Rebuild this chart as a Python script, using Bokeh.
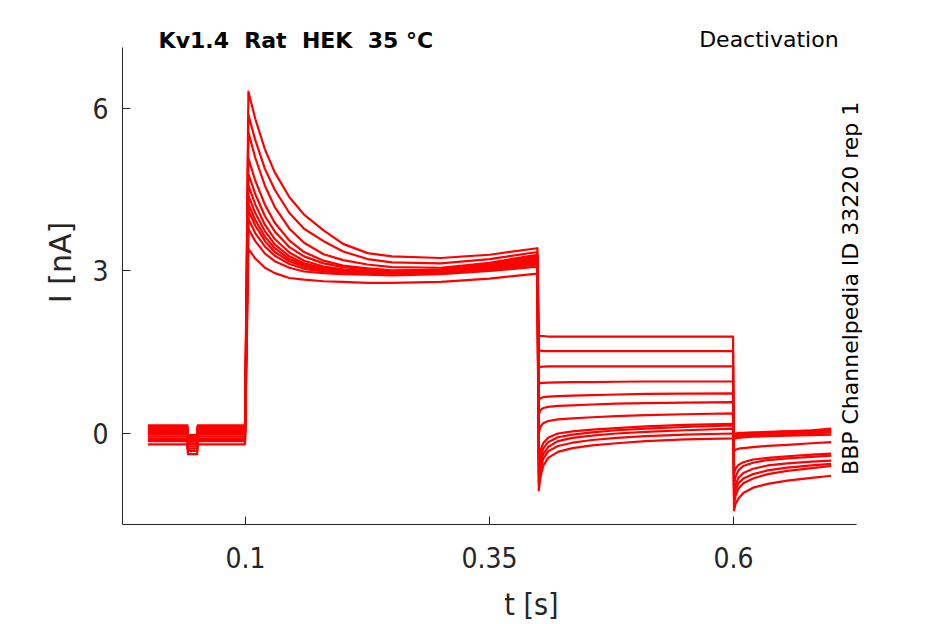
from bokeh.plotting import figure
from bokeh.models import Range1d, FixedTicker, Label
from bokeh.embed import file_html
from bokeh.resources import INLINE
import math

# ---- data ----
X_TICKS = [0.1, 0.35, 0.6]
Y_TICKS = [0, 3, 6]
X_AXIS_SPAN = (-0.026, 0.726)
Y_AXIS_SPAN = (-1.68, 7.126)

# holding segment
T_PRE = [0.0, 0.0405, 0.041, 0.0505, 0.051, 0.0995]
HOLD = [0.15, 0.10, 0.06, 0.12, 0.03, 0.00, -0.02, 0.08, -0.06, -0.10, -0.14, -0.20]
DIP = [-0.03, -0.08, -0.12, -0.06, -0.15, -0.18, -0.20, -0.10, -0.24, -0.28, -0.32, -0.38]

# activating step
T_ACT = [0.103, 0.11, 0.12, 0.13, 0.145, 0.16, 0.18, 0.2, 0.225, 0.25, 0.3, 0.35, 0.399]
ACT = [
    [6.31, 5.81, 5.24, 4.82, 4.36, 4.04, 3.75, 3.50, 3.33, 3.27, 3.24, 3.30, 3.42],
    [5.88, 5.42, 4.88, 4.50, 4.07, 3.78, 3.55, 3.36, 3.22, 3.16, 3.14, 3.22, 3.35],
    [5.56, 5.09, 4.57, 4.18, 3.78, 3.52, 3.31, 3.20, 3.12, 3.07, 3.06, 3.15, 3.30],
    [5.08, 4.67, 4.22, 3.89, 3.56, 3.35, 3.19, 3.10, 3.05, 3.01, 3.02, 3.12, 3.28],
    [4.79, 4.42, 4.01, 3.73, 3.44, 3.27, 3.14, 3.07, 3.03, 3.00, 3.03, 3.13, 3.25],
    [4.58, 4.23, 3.85, 3.59, 3.34, 3.19, 3.08, 3.03, 3.00, 2.98, 3.00, 3.10, 3.22],
    [4.39, 4.07, 3.73, 3.49, 3.27, 3.14, 3.05, 3.01, 2.99, 2.97, 2.99, 3.08, 3.20],
    [4.24, 3.94, 3.63, 3.42, 3.22, 3.11, 3.04, 3.00, 2.98, 2.97, 2.98, 3.06, 3.18],
    [4.12, 3.84, 3.55, 3.35, 3.18, 3.08, 3.01, 2.98, 2.97, 2.96, 2.97, 3.04, 3.15],
    [3.96, 3.70, 3.45, 3.28, 3.13, 3.04, 2.99, 2.97, 2.96, 2.95, 2.96, 3.02, 3.12],
    [3.78, 3.55, 3.32, 3.18, 3.06, 2.99, 2.96, 2.94, 2.93, 2.92, 2.94, 3.00, 3.08],
    [3.41, 3.23, 3.06, 2.96, 2.87, 2.84, 2.81, 2.80, 2.78, 2.78, 2.80, 2.86, 2.95],
]

# tail (deactivation) step
T_TAIL = [0.4005, 0.402, 0.405, 0.41, 0.42, 0.435, 0.455, 0.48, 0.51, 0.55, 0.5995]
TAIL = [
    [1.80, 1.80, 1.80, 1.79, 1.79, 1.79, 1.79, 1.79, 1.79, 1.79, 1.79],
    [1.53, 1.53, 1.52, 1.52, 1.52, 1.52, 1.52, 1.52, 1.52, 1.52, 1.52],
    [1.22, 1.23, 1.235, 1.24, 1.24, 1.24, 1.24, 1.24, 1.24, 1.24, 1.24],
    [0.92, 0.93, 0.935, 0.94, 0.945, 0.95, 0.95, 0.955, 0.96, 0.96, 0.96],
    [0.62, 0.65, 0.67, 0.68, 0.69, 0.70, 0.71, 0.72, 0.73, 0.735, 0.74],
    [0.35, 0.43, 0.47, 0.49, 0.51, 0.52, 0.535, 0.55, 0.56, 0.57, 0.58],
    [0.00, 0.12, 0.19, 0.23, 0.26, 0.28, 0.30, 0.32, 0.34, 0.355, 0.37],
    [-0.45, -0.32, -0.18, -0.08, 0.00, 0.04, 0.07, 0.10, 0.13, 0.16, 0.18],
    [-0.60, -0.45, -0.28, -0.16, -0.07, -0.02, 0.02, 0.06, 0.09, 0.12, 0.15],
    [-0.75, -0.56, -0.38, -0.25, -0.14, -0.08, -0.04, 0.00, 0.03, 0.06, 0.09],
    [-0.90, -0.68, -0.47, -0.33, -0.23, -0.17, -0.12, -0.08, -0.05, -0.02, 0.00],
    [-1.05, -0.82, -0.60, -0.45, -0.34, -0.27, -0.22, -0.18, -0.14, -0.11, -0.09],
]

# final step
T_POST = [0.6005, 0.602, 0.605, 0.61, 0.62, 0.635, 0.655, 0.68, 0.7]
POST = [
    [-1.42, -1.30, -1.20, -1.10, -1.00, -0.93, -0.87, -0.82, -0.78],
    [-1.32, -1.15, -1.02, -0.92, -0.83, -0.75, -0.69, -0.64, -0.60],
    [-1.22, -1.05, -0.92, -0.83, -0.75, -0.68, -0.63, -0.59, -0.56],
    [-1.12, -0.95, -0.82, -0.73, -0.65, -0.59, -0.55, -0.52, -0.50],
    [-0.95, -0.80, -0.68, -0.60, -0.54, -0.49, -0.46, -0.43, -0.41],
    [-0.74, -0.65, -0.58, -0.53, -0.48, -0.45, -0.42, -0.39, -0.37],
    [-0.32, -0.30, -0.28, -0.27, -0.25, -0.23, -0.21, -0.18, -0.16],
    [0.00, 0.00, 0.01, 0.01, 0.02, 0.03, 0.04, 0.05, 0.06],
    [-0.03, -0.03, -0.02, -0.01, 0.00, 0.01, 0.02, 0.03, 0.04],
    [-0.06, -0.05, -0.05, -0.04, -0.03, -0.02, -0.01, 0.00, 0.02],
    [-0.10, -0.09, -0.08, -0.07, -0.06, -0.05, -0.04, -0.03, -0.02],
    [-0.04, -0.03, -0.02, -0.01, 0.00, 0.02, 0.04, 0.06, 0.09],
]

TITLE = "Kv1.4\u00a0 Rat\u00a0 HEK\u00a0 35 °C"
PROTOCOL = "Deactivation"
SOURCE = "BBP Channelpedia ID 33220 rep 1"

# ---- figure ----
AX = "#262626"
TICK_FONT = "DejaVu Sans Condensed, DejaVu Sans"
p = figure(width=940, height=624, output_backend="svg", toolbar_location=None,
           x_range=Range1d(-0.026, 0.812), y_range=Range1d(-1.68, 7.993),
           min_border_left=122, min_border_right=0, min_border_top=0,
           min_border_bottom=100)
p.outline_line_color = None
p.grid.visible = False
p.background_fill_color = "white"
p.border_fill_color = "white"

xs, ys = [], []
for i in range(len(HOLD)):
    h, d = HOLD[i], DIP[i]
    xs.append(T_PRE + T_ACT + T_TAIL + T_POST)
    ys.append([h, h, d, d, h, h] + ACT[i] + TAIL[i] + POST[i])
p.multi_line(xs, ys, line_color="#ff0000", line_width=2.2, line_join="round")

for ax in (p.xaxis[0], p.yaxis[0]):
    ax.axis_line_color = AX
    ax.axis_line_width = 1
    ax.major_tick_line_color = AX
    ax.major_tick_in = 8
    ax.major_tick_out = 0
    ax.minor_tick_line_color = None
    ax.major_label_text_color = AX
    ax.major_label_text_font = TICK_FONT
    ax.major_label_text_font_size = "28px"
    ax.axis_label_text_color = AX
    ax.axis_label_text_font_style = "normal"

p.xaxis.bounds = X_AXIS_SPAN
p.yaxis.bounds = Y_AXIS_SPAN
p.xaxis.ticker = FixedTicker(ticks=X_TICKS)
p.yaxis.ticker = FixedTicker(ticks=Y_TICKS)
p.xaxis.major_label_overrides = {0.1: "0.1", 0.35: "0.35", 0.6: "0.6"}
p.xaxis.major_label_standoff = 22
p.yaxis.major_label_standoff = 14
p.xaxis.axis_label = "t [s]"
p.yaxis.axis_label = "I [nA]"
p.xaxis.axis_label_text_font = TICK_FONT
p.xaxis.axis_label_text_font_size = "30px"
p.yaxis.axis_label_text_font = "DejaVu Sans"
p.yaxis.axis_label_text_font_size = "30px"
p.xaxis.axis_label_standoff = 16
p.yaxis.axis_label_standoff = 11

p.add_layout(Label(x=0.011, y=7.255, text=TITLE, text_font="DejaVu Sans",
                   text_font_style="bold", text_font_size="22px",
                   text_color="black", text_baseline="middle", text_align="left"))
p.add_layout(Label(x=0.7076, y=7.27, text=PROTOCOL, text_font="DejaVu Sans",
                   text_font_size="22px", text_color="black",
                   text_baseline="middle", text_align="right"))
p.add_layout(Label(x=0.72, y=2.68, text=SOURCE, text_font="DejaVu Sans",
                   text_font_size="22px", text_color="black", angle=math.pi / 2,
                   text_baseline="middle", text_align="center"))

open("out.html", "w").write(file_html(p, INLINE))
